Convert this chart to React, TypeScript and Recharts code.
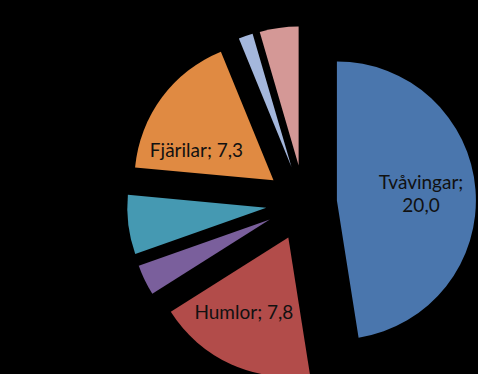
import React from 'react';
import { PieChart, Pie, Cell, Sector } from 'recharts';

const categories = ['Tvåvingar', 'Humlor', 'Honungsbin', 'Solitära bin', 'Fjärilar', 'Skalbaggar', 'Övriga'];
const values = [20.0, 7.8, 1.5, 2.9, 7.3, 0.7, 1.9];
const labelled = ['Tvåvingar', 'Humlor', 'Fjärilar'];

const colors = ['#4a76ad', '#b24c4a', '#7a5f9c', '#4599b2', '#e08a42', '#a4b7dc', '#d49896'];

const data = categories.map((name, i) => ({ name, value: values[i] }));

const RADIAN = Math.PI / 180;
const explode = (name: string) => (name === 'Tvåvingar' ? 33 : 38);
// small hand nudges so labels sit where Excel's best fit put them
const nudge: Record<string, [number, number]> = {
  Tvåvingar: [1, 0],
  Humlor: [-10, -2],
  Fjärilar: [-10, 19],
};

const offset = (midAngle: number, d: number) => ({
  dx: d * Math.cos(-midAngle * RADIAN),
  dy: d * Math.sin(-midAngle * RADIAN),
});

const renderSlice = (props: any) => {
  const { dx, dy } = offset(props.midAngle, explode(props.name));
  return <Sector {...props} cx={props.cx + dx} cy={props.cy + dy} stroke="none" />;
};

const fmt = (v: number) => v.toFixed(1).replace('.', ',');

const renderLabel = (props: any) => {
  const { cx, cy, midAngle, outerRadius, name, value } = props;
  if (!labelled.includes(name)) return null;
  const { dx, dy } = offset(midAngle, explode(name));
  const r = outerRadius * 0.6;
  const [nx, ny] = nudge[name] || [0, 0];
  const x = cx + dx + r * Math.cos(-midAngle * RADIAN) + nx;
  const y = cy + dy + r * Math.sin(-midAngle * RADIAN) + ny;
  const style = { fontFamily: 'Lato, sans-serif', fontSize: 19, fill: '#111' };
  if (name === 'Tvåvingar') {
    return (
      <text x={x} y={y} textAnchor="middle" style={style}>
        <tspan x={x} dy={-5}>{name};</tspan>
        <tspan x={x} dy={23}>{fmt(value)}</tspan>
      </text>
    );
  }
  return (
    <text x={x} y={y} textAnchor="middle" dominantBaseline="central" style={style}>
      {name}; {fmt(value)}
    </text>
  );
};

export default function App() {
  return (
    <div style={{ position: 'fixed', left: 0, top: 0, width: 478, height: 374, background: '#000' }}>
      <PieChart width={478} height={374}>
        <Pie
          data={data}
          dataKey="value"
          nameKey="name"
          cx={299}
          cy={198}
          outerRadius={139}
          startAngle={90}
          endAngle={-270}
          stroke="none"
          shape={renderSlice}
          label={renderLabel}
          labelLine={false}
          isAnimationActive={false}
        >
          {data.map((entry, i) => (
            <Cell key={entry.name} fill={colors[i]} />
          ))}
        </Pie>
      </PieChart>
    </div>
  );
}
